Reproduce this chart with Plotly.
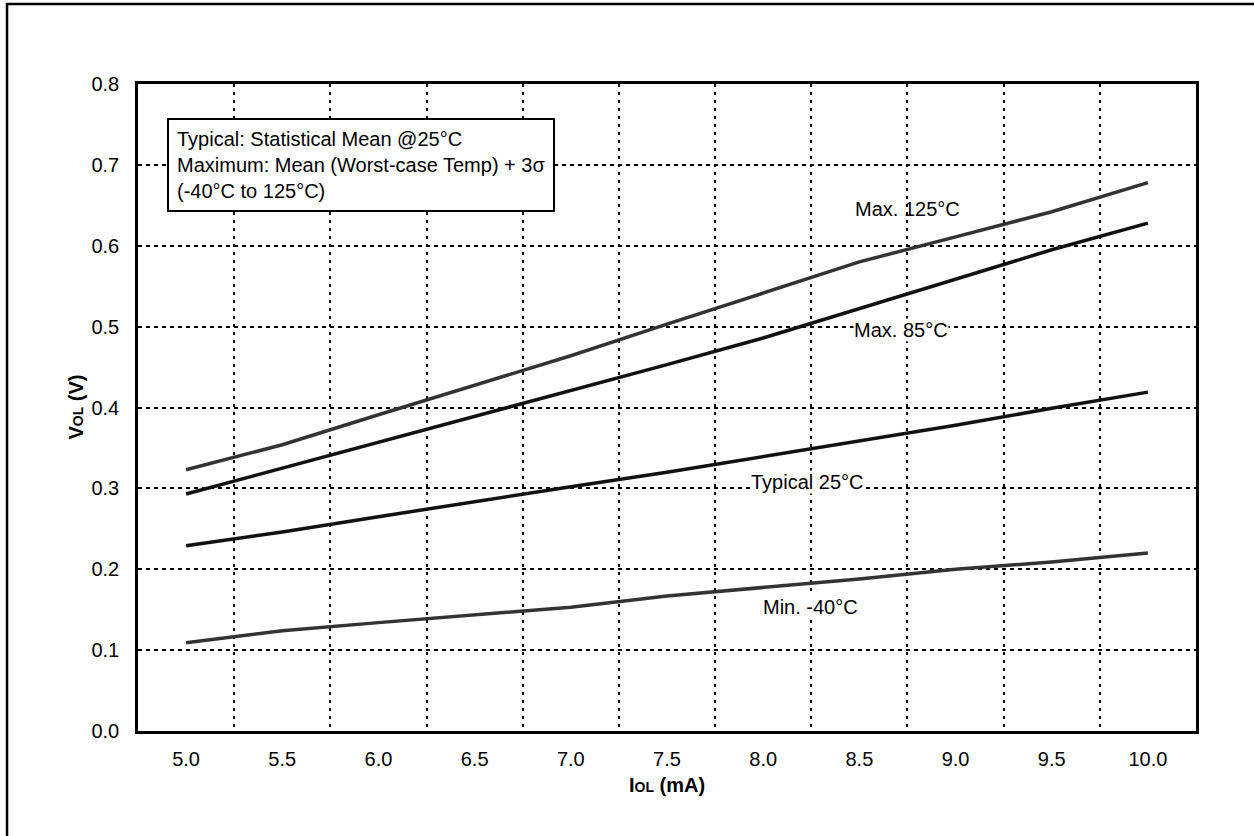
import plotly.graph_objects as go

iol = ["5.0", "5.5", "6.0", "6.5", "7.0", "7.5", "8.0", "8.5", "9.0", "9.5", "10.0"]
max_125 = [0.323, 0.354, 0.391, 0.428, 0.464, 0.503, 0.541, 0.580, 0.611, 0.642, 0.678]
max_85 = [0.293, 0.325, 0.356, 0.388, 0.420, 0.453, 0.486, 0.522, 0.558, 0.595, 0.628]
typical_25 = [0.229, 0.246, 0.265, 0.284, 0.302, 0.320, 0.339, 0.358, 0.378, 0.399, 0.419]
min_m40 = [0.109, 0.124, 0.134, 0.144, 0.153, 0.167, 0.177, 0.188, 0.200, 0.209, 0.220]
y_ticks = [0.0, 0.1, 0.2, 0.3, 0.4, 0.5, 0.6, 0.7, 0.8]

FONT = "Liberation Sans, Arial, sans-serif"
FS = 20

fig = go.Figure()
series = [
    ("Max. 125°C", max_125, "#333333"),
    ("Max. 85°C", max_85, "#111111"),
    ("Typical 25°C", typical_25, "#111111"),
    ("Min. -40°C", min_m40, "#333333"),
]
for name, vals, col in series:
    fig.add_trace(go.Scatter(x=iol, y=vals, mode="lines", name=name,
                             line=dict(color=col, width=3.5), showlegend=False))

# label positions: (text, category index position, value, white background)
labels = [
    ("Max. 125°C", 7.5, 0.645, False),
    ("Max. 85°C", 7.43, 0.496, True),
    ("Typical 25°C", 6.46, 0.308, True),
    ("Min. -40°C", 6.49, 0.153, True),
]
for text, xc, yv, bg in labels:
    fig.add_annotation(x=xc, y=yv, text=text, showarrow=False,
                       font=dict(family=FONT, size=FS, color="black"),
                       bgcolor="white" if bg else None, borderpad=0)

fig.add_annotation(
    xref="paper", yref="paper", x=0.0274, y=0.947, xanchor="left", yanchor="top",
    text="Typical: Statistical Mean @25°C<br>Maximum: Mean (Worst-case Temp) + 3σ<br>(-40°C to 125°C)",
    align="left", showarrow=False, bgcolor="white", bordercolor="black", borderwidth=2,
    borderpad=8, font=dict(family=FONT, size=FS, color="black"))

# axis titles
fig.add_annotation(xref="paper", yref="paper", x=0.5, y=-0.083, xanchor="center", yanchor="middle",
                   text="<b>I<span style='font-size:14px'>OL</span> (mA)</b>", showarrow=False,
                   font=dict(family=FONT, size=FS, color="black"))
fig.add_annotation(xref="paper", yref="paper", x=-0.0595, y=0.5, xanchor="center", yanchor="middle",
                   text="<b>V<span style='font-size:14px'>OL</span> (V)</b>", showarrow=False,
                   textangle=-90, font=dict(family=FONT, size=FS, color="black"))

# outer frame (partly outside the visible page, as in the reference)
fig.add_shape(type="rect", xref="paper", yref="paper", x0=-0.1238, x1=1.2, y0=-0.3, y1=1.1236,
              line=dict(color="black", width=2.5), layer="below")

fig.update_xaxes(type="category", tickson="boundaries", range=[-0.5, 10.5],
                 showgrid=True, gridcolor="black", gridwidth=1.8, griddash="3px,5px",
                 showline=True, linecolor="black", linewidth=2.5, mirror=True,
                 ticks="", ticklabelstandoff=8,
                 tickfont=dict(family=FONT, size=FS, color="black"),
                 zeroline=False)
fig.update_yaxes(range=[0, 0.8], tickvals=y_ticks, tickformat=".1f",
                 showgrid=True, gridcolor="black", gridwidth=1.8, griddash="4px,4px",
                 showline=True, linecolor="black", linewidth=2.5, mirror=True,
                 ticks="", ticklabelstandoff=12,
                 tickfont=dict(family=FONT, size=FS, color="black"),
                 zeroline=False)

fig.update_layout(width=1254, height=836, paper_bgcolor="white", plot_bgcolor="white",
                  margin=dict(l=138, r=58, t=84, b=105), showlegend=False)

fig.write_html("out.html", config={"displayModeBar": False},
               post_script="document.body.style.margin='0';document.body.style.overflow='hidden';")
